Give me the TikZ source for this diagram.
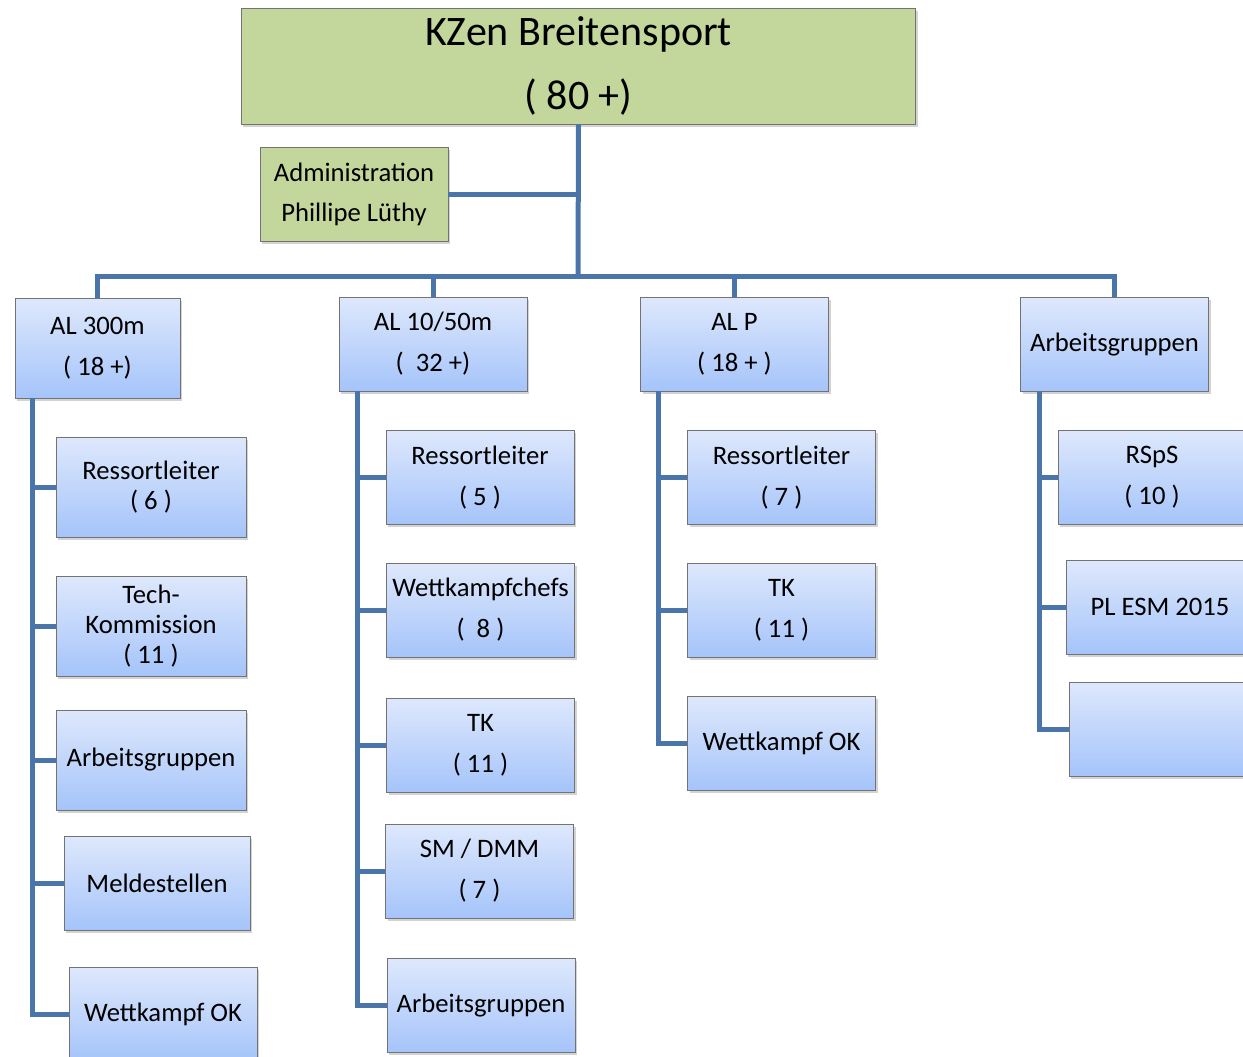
\documentclass[tikz,border=0pt]{standalone}
\usepackage{fontspec}
\setmainfont{Carlito}
\usetikzlibrary{shadows,calc}
\definecolor{linkblue}{RGB}{74,117,170}
\definecolor{boxtop}{RGB}{222,232,252}
\definecolor{boxbot}{RGB}{165,196,250}
\definecolor{headgreen}{RGB}{195,214,155}

\begin{document}
\begin{tikzpicture}[x=0.75pt, y=-0.75pt,
  conn/.style={draw=linkblue, line width=3.75pt},
  box/.style={draw=black!55, line width=0.6pt, top color=boxtop, bottom color=boxbot,
    minimum width=141pt, minimum height=70.5pt, inner sep=2pt, align=center,
    font=\fontsize{20}{30.75}\selectfont,
    drop shadow={shadow xshift=1.5pt, shadow yshift=-2pt, opacity=0.35}},
  widebox/.style={box, minimum width=142.5pt, minimum height=75pt, font=\fontsize{20}{22.5}\selectfont},
  head/.style={box, top color=headgreen, bottom color=headgreen}]
	\useasboundingbox (0,0) rectangle (1243,1057);
	\clip (0,0) rectangle (1243,1057);
	
	\coordinate (bus) at (578,276);
	
	\node[head, minimum width=506pt, minimum height=87pt, font=\fontsize{31.5}{48}\selectfont] (top) at (578.5,66) {KZen Breitensport\\( 80 +)};
	\node[head, font=\fontsize{20}{30}\selectfont] (admin) at (354,194.5) {Administration\\Phillipe Lüthy};
	
	\node[box, minimum width=123.75pt, minimum height=75pt] (al300) at (97.5,348) {AL 300m\\( 18 +)};
	\node[box] (al1050) at (433,344) {AL 10/50m\\(\ \ 32 +)};
	\node[box] (alp) at (734.5,344) {AL P\\( 18 + )};
	\node[box] (agr) at (1114.5,344.5) {Arbeitsgruppen};
	
	\node[widebox] (c1a) at (151,487) {Ressortleiter\\( 6 )};
	\node[widebox] (c1b) at (151,626) {Tech-\\Kommission\\( 11 )};
	\node[widebox] (c1c) at (151,760) {Arbeitsgruppen};
	\node[box, minimum width=139.5pt] (c1d) at (157,883) {Meldestellen};
	\node[box] (c1e) at (163,1014) {Wettkampf OK};
	
	\node[box] (c2a) at (480,477.5) {Ressortleiter\\( 5 )};
	\node[box] (c2b) at (480.5,610) {Wettkampfchefs\\(\ \ 8 )};
	\node[box] (c2c) at (480.5,745) {TK\\( 11 )};
	\node[box] (c2d) at (479.5,871) {SM / DMM\\( 7 )};
	\node[box] (c2e) at (481,1005.5) {Arbeitsgruppen};
	
	\node[box] (c3a) at (781.5,477.5) {Ressortleiter\\( 7 )};
	\node[box] (c3b) at (781.5,610) {TK\\( 11 )};
	\node[box] (c3c) at (781.5,743.5) {Wettkampf OK};
	
	\node[box] (c4a) at (1152,477.5) {RSpS\\( 10 )};
	\node[box] (c4b) at (1160,607) {PL ESM 2015};
	\node[box] (c4c) at (1163,729) {};
	
	\draw[conn] (top.south) -- (bus);
	\draw[conn] (admin.east) -- (admin.east -| bus);
	\draw[conn] (al300.north) |- (bus) -| (agr.north);
	\draw[conn] (al1050.north) -- (al1050.north |- bus);
	\draw[conn] (alp.north) -- (alp.north |- bus);
	
	\coordinate (k1) at ($(al300.south west)+(18,0)$);
	\coordinate (k2) at ($(al1050.south west)+(19,0)$);
	\coordinate (k3) at ($(alp.south west)+(18,0)$);
	\coordinate (k4) at ($(agr.south west)+(19,0)$);
	\foreach \c in {c1a,c1b,c1c,c1d,c1e} \draw[conn] (k1) |- (\c.west);
	\foreach \c in {c2a,c2b,c2c,c2d,c2e} \draw[conn] (k2) |- (\c.west);
	\foreach \c in {c3a,c3b,c3c} \draw[conn] (k3) |- (\c.west);
	\foreach \c in {c4a,c4b,c4c} \draw[conn] (k4) |- (\c.west);
\end{tikzpicture}
\end{document}
